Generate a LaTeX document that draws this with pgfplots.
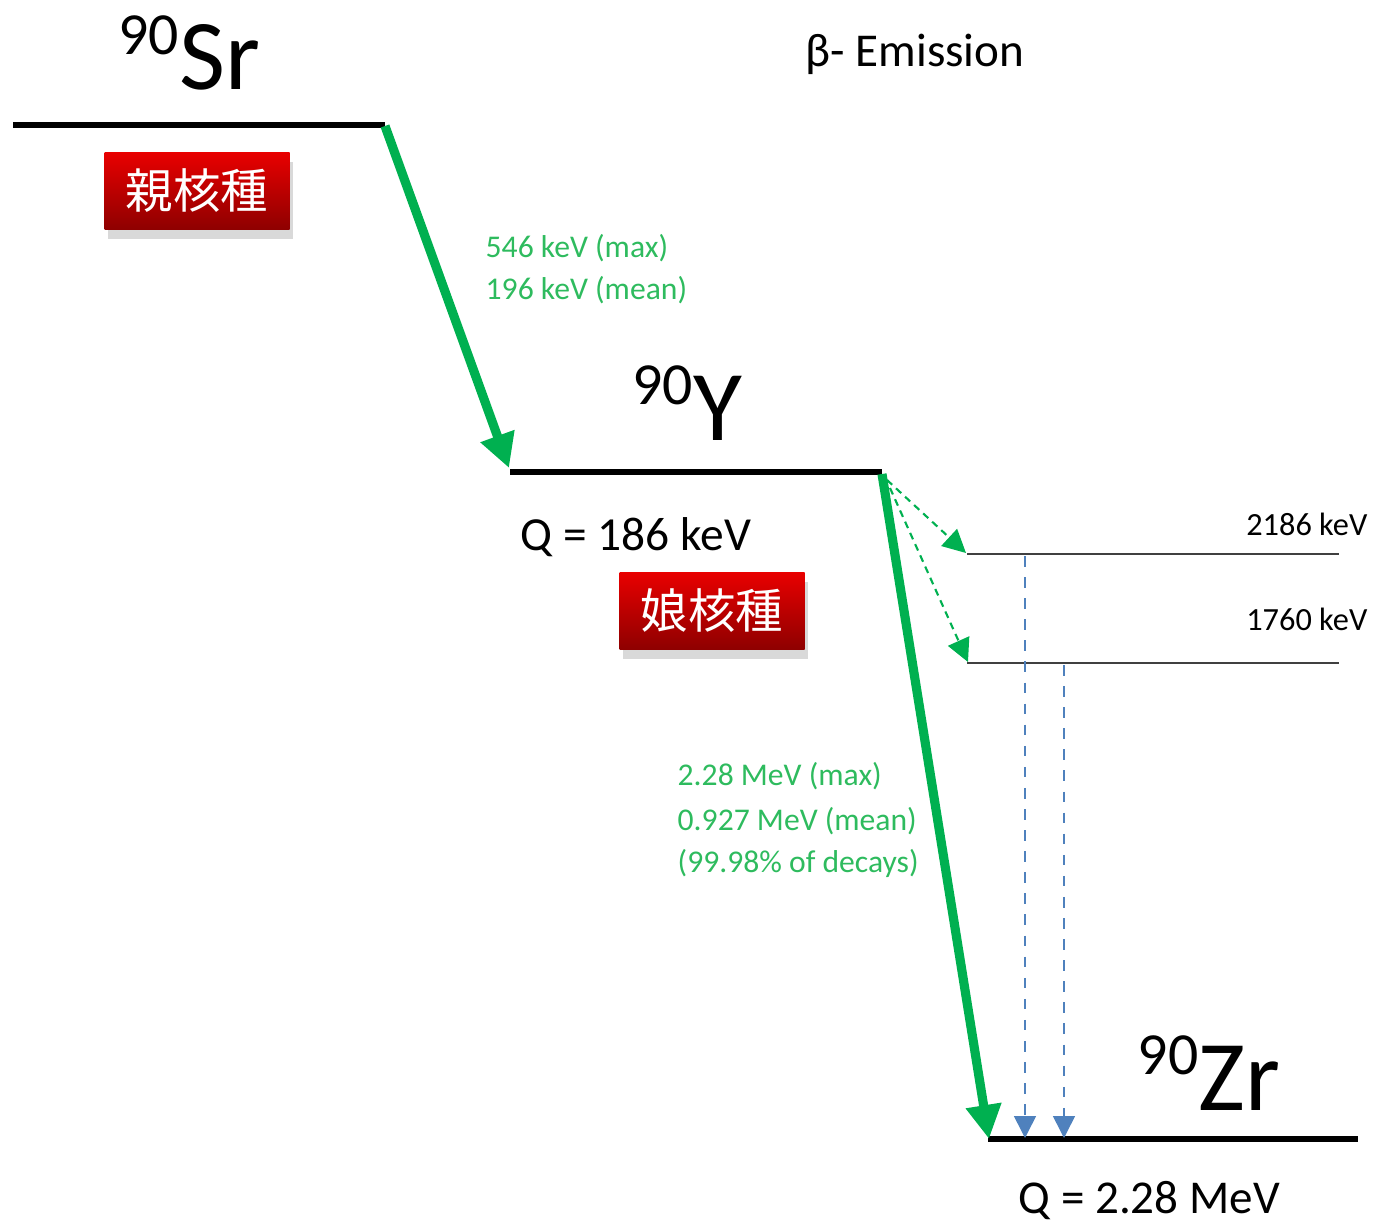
\documentclass[border=0pt]{standalone}
\usepackage{pgfplots}
\pgfplotsset{compat=1.18}
\usepackage{fontspec}
\setmainfont{Carlito}
\newfontfamily\cjk{Noto Sans CJK JP}
\usetikzlibrary{arrows.meta,shadows}

\definecolor{decaygreen}{HTML}{00B050}
\definecolor{labelgreen}{HTML}{2EBB5E}
\definecolor{gammablue}{HTML}{4F81BD}
\definecolor{boxtop}{HTML}{E80000}
\definecolor{boxbot}{HTML}{8E0000}

\tikzset{
  red box/.style={draw=none, minimum width=18.5mm, minimum height=7.7mm,
    top color=boxtop, bottom color=boxbot, text=white,
    drop shadow={shadow xshift=0.3mm, shadow yshift=-0.9mm, opacity=0.3},
    font=\cjk\fontsize{13.5}{14}\selectfont},
}

\begin{document}
\begin{tikzpicture}
\begin{axis}[
  width=13.73cm, height=12.21cm, scale only axis,
  xmin=0, xmax=1373, ymin=0, ymax=1221, y dir=reverse,
  hide axis, clip=false,
]
% energy levels
\addplot[black, line width=1.7pt] coordinates {(13,125) (385,125)};
\addplot[black, line width=1.7pt] coordinates {(510,472) (882,472)};
\addplot[black, line width=1.7pt] coordinates {(988,1139) (1358,1139)};
\addplot[black!75, line width=0.6pt] coordinates {(967,554) (1339,554)};
\addplot[black!75, line width=0.6pt] coordinates {(967,663) (1339,663)};

% beta decays
\addplot[decaygreen, line width=2.6pt, -{Triangle[length=3.4mm, width=3.4mm]}]
  coordinates {(385,126) (509,468)};
\addplot[decaygreen, line width=2.6pt, -{Triangle[length=3.4mm, width=3.4mm]}]
  coordinates {(882,474) (989,1139)};
\addplot[decaygreen, line width=0.6pt, dash pattern=on 2pt off 1.5pt, -{Triangle[length=2.3mm, width=2.3mm]}]
  coordinates {(887,480) (966,553)};
\addplot[decaygreen, line width=0.6pt, dash pattern=on 2pt off 1.5pt, -{Triangle[length=2.3mm, width=2.3mm]}]
  coordinates {(890,488) (968,662)};

% gamma transitions
\addplot[gammablue, line width=0.45pt, dashed, -{Triangle[length=2.2mm, width=2.2mm]}]
  coordinates {(1025,556) (1025,1138)};
\addplot[gammablue, line width=0.45pt, dashed, -{Triangle[length=2.2mm, width=2.2mm]}]
  coordinates {(1064,665) (1064,1138)};

% nuclide names
\node[anchor=base west, inner sep=0pt] at (118,90)
  {\fontsize{17}{20}\selectfont\raisebox{10pt}{90}\fontsize{28.5}{30}\selectfont Sr};
\node[anchor=base west, inner sep=0pt] at (632,440)
  {\fontsize{17}{20}\selectfont\raisebox{10pt}{90}\fontsize{28.5}{30}\selectfont Y};
\node[anchor=base west, inner sep=0pt] at (1137,1110)
  {\fontsize{17}{20}\selectfont\raisebox{10pt}{90}\fontsize{28.5}{30}\selectfont Zr};

\node[anchor=base west, inner sep=0pt, font=\fontsize{13.4}{16}\selectfont] at (805,66) {β- Emission};

% beta energies
\begin{scope}[every node/.style={anchor=base west, inner sep=0pt, text=labelgreen, font=\fontsize{9}{11}\selectfont}]
\node at (485,257) {546 keV (max)};
\node at (485,300) {196 keV (mean)};
\node at (677,785) {2.28 MeV (max)};
\node at (677,830) {0.927 MeV (mean)};
\node at (677,872) {(99.98\% of decays)};
\end{scope}

% excited levels
\node[anchor=base east, inner sep=0pt, font=\fontsize{9.2}{10}\selectfont] at (1368,535) {2186 keV};
\node[anchor=base east, inner sep=0pt, font=\fontsize{9.2}{10}\selectfont] at (1368,630) {1760 keV};

% Q values
\node[anchor=base west, inner sep=0pt, font=\fontsize{13.5}{16}\selectfont] at (520,550) {Q = 186 keV};
\node[anchor=base west, inner sep=0pt, font=\fontsize{13.4}{16}\selectfont] at (1018,1213) {Q = 2.28 MeV};

% parent / daughter labels
\node[red box] at (197,191) {親核種};
\node[red box] at (712,611) {娘核種};
\end{axis}
\pgfresetboundingbox
\path (current axis.south west) rectangle (current axis.north east);
\end{tikzpicture}
\end{document}
